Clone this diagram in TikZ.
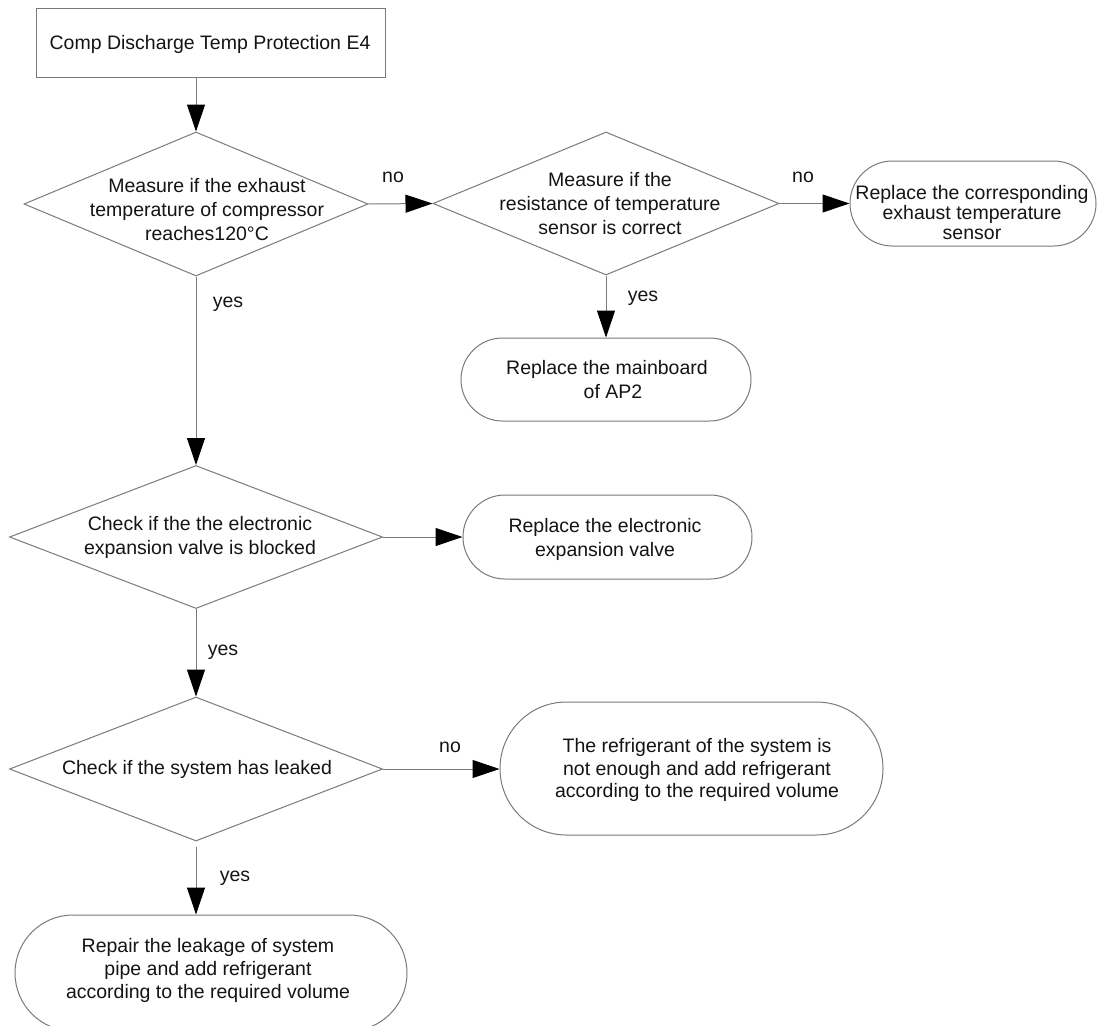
\documentclass[tikz,border=0pt]{standalone}
\usepackage{fontspec}
\setmainfont{Liberation Sans}
\usetikzlibrary{shapes.geometric,shapes.misc,arrows.meta}
\definecolor{lc}{HTML}{7A7A7A}
\definecolor{tc}{HTML}{141414}
\begin{document}
\begin{tikzpicture}[x=1pt,y=-1pt,
  font=\fontsize{19.5}{24}\selectfont,
  shp/.style={draw=lc, line width=1pt, inner sep=0pt, fill=white},
  dia/.style={shp, diamond},
  stad/.style={shp, rounded rectangle},
  boxshape/.style={shp, rectangle},
  txt/.style={align=center, text=tc, inner sep=0pt},
  lbl/.style={text=tc, inner sep=0pt},
  arr/.style={draw=lc, line width=1pt, -{Triangle[length=27pt,width=18pt,color=black]}}]
\fill[white] (0,0) rectangle (1097,1025);
\useasboundingbox (0,0) rectangle (1097,1025);

% shapes
\node[boxshape, minimum width=349pt, minimum height=68pt] (b1) at (210.5,43) {};
\node[dia, minimum width=344pt, minimum height=144pt] (d1) at (196,204) {};
\node[dia, minimum width=346pt, minimum height=143pt] (d2) at (606,203.5) {};
\node[stad, minimum width=246pt, minimum height=85pt] (s1) at (973,203.5) {};
\node[stad, minimum width=290pt, minimum height=83pt] (s2) at (606,379.5) {};
\node[dia, minimum width=373pt, minimum height=143pt] (d3) at (196,537) {};
\node[stad, minimum width=289pt, minimum height=84pt] (s3) at (607.5,537) {};
\node[dia, minimum width=373pt, minimum height=144pt] (d4) at (196,769) {};
\node[stad, minimum width=383pt, minimum height=133pt] (s4) at (691.5,768.5) {};
\node[stad, minimum width=392pt, minimum height=116pt] (s5) at (211,973) {};

% texts
\node[txt] (t0) at (210,44) {Comp Discharge Temp Protection E4};
\node[txt] (t1) at (207,210) {Measure if the exhaust\\temperature of compressor\\reaches120°C};
\node[txt] (t2) at (610,204) {Measure if the\\resistance of temperature\\sensor is correct};
\node[txt, font=\fontsize{19.5}{20}\selectfont] (t3) at (972,213) {Replace the corresponding\\exhaust temperature\\sensor};
\node[txt] (t4) at (607,380) {Replace the mainboard\\\hspace*{12pt}of AP2};
\node[txt] (t5) at (200,537) {Check if the the electronic\\expansion valve is blocked};
\node[txt] (t6) at (605,539) {Replace the electronic\\expansion valve};
\node[txt] (t7) at (197,769) {Check if the system has leaked};
\node[txt, font=\fontsize{19.5}{22.5}\selectfont] (t8) at (697,770) {The refrigerant of the system is\\not enough and add refrigerant\\according to the required volume};
\node[txt, font=\fontsize{19.5}{23}\selectfont] (t9) at (208,970) {Repair the leakage of system\\pipe and add refrigerant\\according to the required volume};

% connectors
\draw[arr] (b1.south -| d1.north) -- (d1.north);
\draw[arr] (d1.east) -- (d2.west);
\draw[arr] (d2.east) -- (s1.west);
\draw[arr] (d2.south) -- (s2.north);
\draw[arr] (d1.south) -- (d3.north);
\draw[arr] (d3.east) -- (s3.west);
\draw[arr] (d3.south) -- (d4.north);
\draw[arr] (d4.east) -- (s4.west |- d4.east);
\draw[arr, shorten <=5pt] (d4.south) -- (s5.north -| d4.south);

% labels
\node[lbl] (l1) at (393,177) {no};
\node[lbl] (l2) at (803,177) {no};
\node[lbl] (l3) at (228,304) {yes};
\node[lbl] (l4) at (643,298) {yes};
\node[lbl] (l5) at (223,652) {yes};
\node[lbl] (l6) at (450,747) {no};
\node[lbl] (l7) at (235,878) {yes};
\end{tikzpicture}
\end{document}
